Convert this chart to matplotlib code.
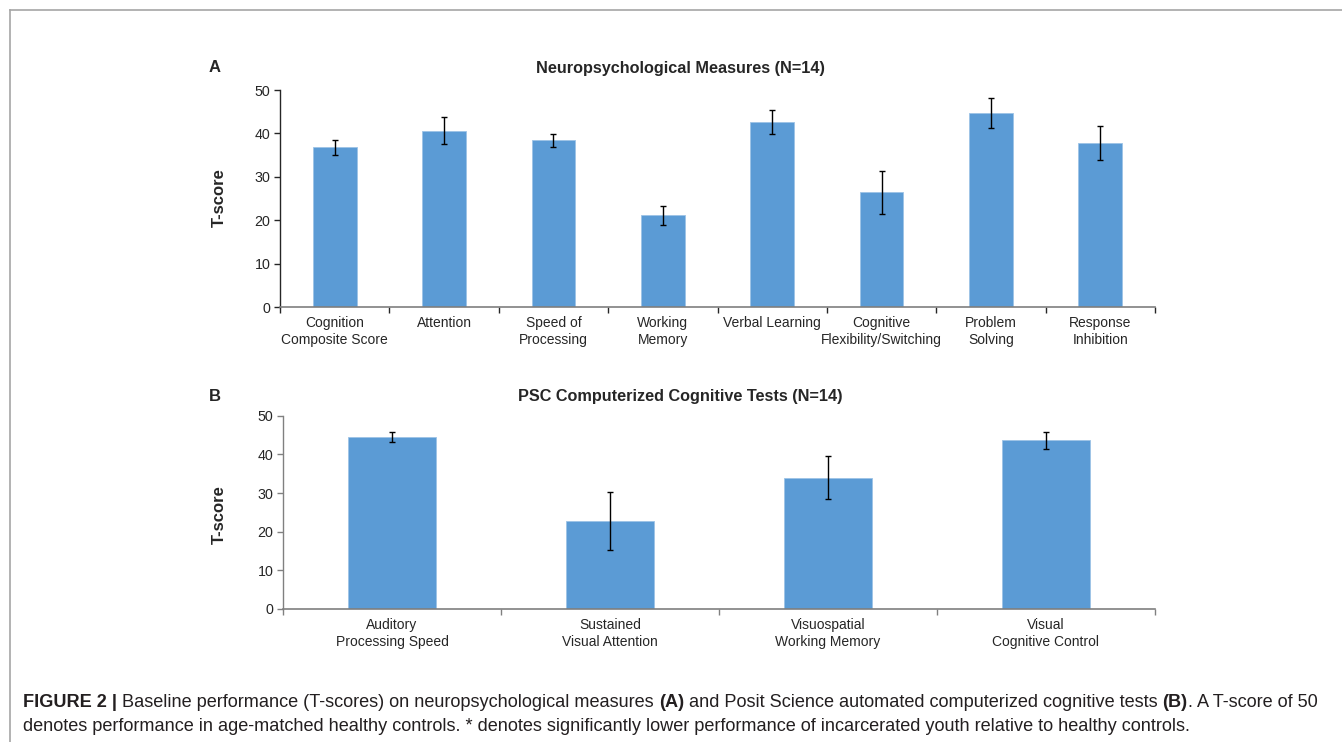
import matplotlib
matplotlib.use('Agg')
import matplotlib.pyplot as plt
from matplotlib.lines import Line2D
import numpy as np

plt.rcParams['font.family'] = ['Liberation Sans', 'DejaVu Sans']

# ---- data ----
labels_a = ['Cognition\nComposite Score', 'Attention', 'Speed of\nProcessing', 'Working\nMemory',
            'Verbal Learning', 'Cognitive\nFlexibility/Switching', 'Problem\nSolving', 'Response\nInhibition']
means_a = [36.8, 40.6, 38.4, 21.1, 42.6, 26.4, 44.7, 37.7]
errs_a = [1.7, 3.1, 1.5, 2.2, 2.7, 4.9, 3.4, 3.9]

labels_b = ['Auditory\nProcessing Speed', 'Sustained\nVisual Attention',
            'Visuospatial\nWorking Memory', 'Visual\nCognitive Control']
means_b = [44.4, 22.7, 34.0, 43.6]
errs_b = [1.3, 7.5, 5.5, 2.2]

title_a = 'Neuropsychological Measures (N=14)'
title_b = 'PSC Computerized Cognitive Tests (N=14)'

BAR = '#5B9BD5'
TXT = '#262626'

W, H = 1342, 742
fig = plt.figure(figsize=(W / 100, H / 100), dpi=100)


def px(x, y):
    return x / W, 1 - y / H


def panel(rect, labels, means, errs, title, spine_col, ylab_y, title_y):
    ax = fig.add_axes(rect)
    n = len(labels)
    x = np.arange(n)
    ax.bar(x, means, width=0.4, color=BAR, edgecolor='#9DC3E6', linewidth=0.6, zorder=2)
    ax.errorbar(x, means, yerr=errs, fmt='none', ecolor='black', elinewidth=1.0,
                capsize=2.5, capthick=1.0, zorder=3)
    ax.set_xlim(-0.5, n - 0.5)
    ax.set_ylim(0, 50)
    ax.set_yticks(range(0, 51, 10))
    ax.set_xticks(np.arange(n + 1) - 0.5)
    ax.set_xticklabels([])
    ax.set_xticks(x, minor=True)
    ax.set_xticklabels(labels, minor=True, fontsize=10, color=TXT, linespacing=1.25)
    ax.tick_params(axis='x', which='minor', length=0, pad=6.5)
    ax.tick_params(axis='x', which='major', length=4, width=1, color=spine_col, direction='out')
    ax.tick_params(axis='y', length=4, width=1, color=spine_col, labelsize=10.3, labelcolor=TXT, pad=3)
    for s in ['top', 'right']:
        ax.spines[s].set_visible(False)
    ax.spines['left'].set_color(spine_col)
    ax.spines['bottom'].set_color('#7F7F7F')
    ax.spines['left'].set_linewidth(1.0)
    ax.spines['bottom'].set_linewidth(1.2)
    fig.text(*px(680, title_y), title, ha='center', va='center', fontsize=11.7,
             fontweight='bold', color=TXT)
    fig.text(*px(219, ylab_y), 'T-score', rotation=90, ha='center', va='center',
             fontsize=12, fontweight='bold', color=TXT)
    return ax


ax_a = panel([280 / W, 1 - 307 / H, 875 / W, 217 / H], labels_a, means_a, errs_a,
             title_a, '#262626', 198, 68)
ax_b = panel([283 / W, 1 - 609 / H, 872 / W, 193.3 / H], labels_b, means_b, errs_b,
             title_b, '#808080', 515, 397)

fig.text(*px(215, 68), 'A', ha='center', va='center', fontsize=12, fontweight='bold', color=TXT)
fig.text(*px(215, 397), 'B', ha='center', va='center', fontsize=12, fontweight='bold', color=TXT)

# frame lines (top and left)
fig.add_artist(Line2D([10 / W, 1], [1 - 10 / H, 1 - 10 / H], transform=fig.transFigure,
                      color='#A6A6A6', lw=1.2))
fig.add_artist(Line2D([10 / W, 10 / W], [1 - 10 / H, 0], transform=fig.transFigure,
                      color='#A6A6A6', lw=1.2))

# caption with mixed bold / regular
renderer = fig.canvas.get_renderer()
cap_size = 13.1
CAP = '#231F20'


def write_line(parts, x0, y0):
    x = x0
    for s, bold in parts:
        t = fig.text(x, y0, s, fontsize=cap_size, fontweight='bold' if bold else 'normal',
                     color=CAP, ha='left', va='baseline')
        bb = t.get_window_extent(renderer=renderer)
        x += bb.width / W


line1 = [('FIGURE 2 | ', True),
         ('Baseline performance (T-scores) on neuropsychological measures ', False),
         ('(A)', True),
         (' and Posit Science automated computerized cognitive tests ', False),
         ('(B)', True),
         ('. A T-score of 50', False)]
line2 = [('denotes performance in age-matched healthy controls. * denotes significantly lower '
          'performance of incarcerated youth relative to healthy controls.', False)]
write_line(line1, 23 / W, 1 - 707 / H)
write_line(line2, 23 / W, 1 - 731 / H)

fig.savefig('out.png', dpi=100)
